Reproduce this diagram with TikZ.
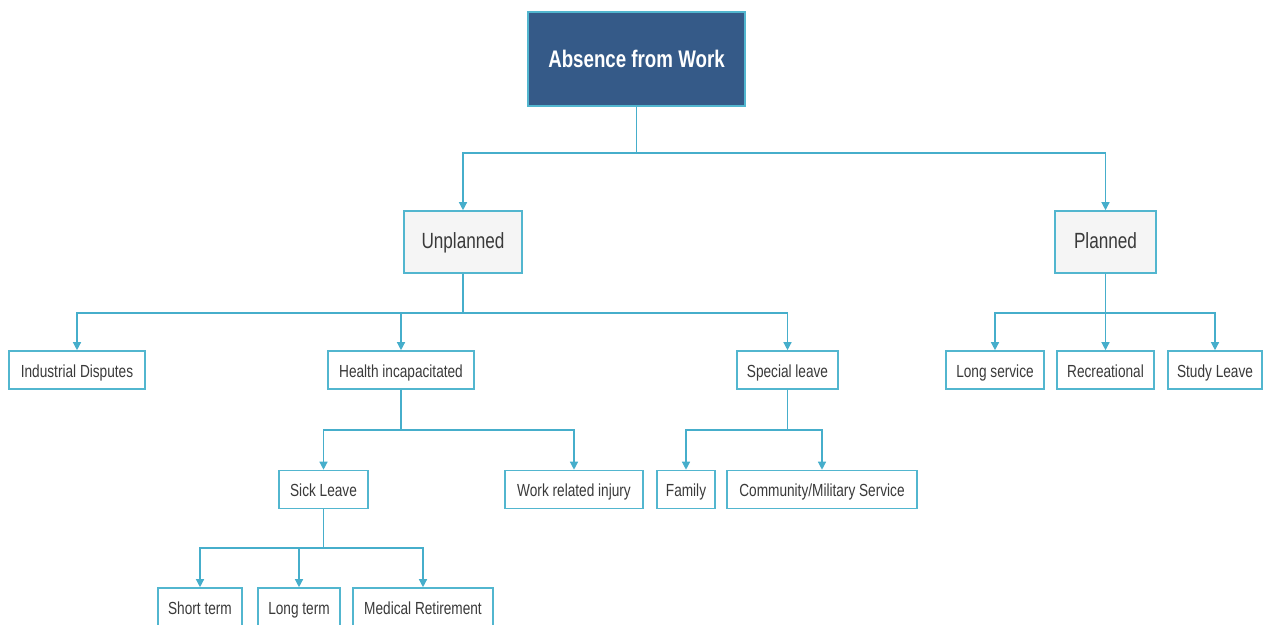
\documentclass[tikz,border=0pt]{standalone}
\usepackage{fontspec}
\setmainfont[FakeStretch=0.78]{Liberation Sans}
\usetikzlibrary{arrows.meta}
\definecolor{rootfill}{HTML}{355A88}
\definecolor{edge}{HTML}{46AECB}
\definecolor{boxline}{HTML}{52B6CF}
\definecolor{txt}{HTML}{3A3A3A}
\definecolor{midfill}{HTML}{F5F5F5}
\tikzset{
  rootbox/.style={draw=boxline, line width=1.6pt, fill=rootfill, text=white, font=\fontsize{24}{28}\selectfont\bfseries, minimum width=217pt, minimum height=94pt, inner sep=0pt, text height=1.8em, text depth=0.2em},
  midbox/.style={draw=boxline, line width=1.6pt, fill=midfill, text=txt, font=\fontsize{22}{26}\selectfont, minimum height=62pt, inner sep=0pt, text height=1.45em, text depth=0.2em},
  leafbox/.style={draw=boxline, line width=1.6pt, fill=white, text=txt, font=\fontsize{17.5}{21}\selectfont, minimum height=38pt, inner sep=0pt, text height=1.55em, text depth=0.15em},
  conn/.style={draw=edge, line width=1.3pt, -{Triangle[width=8pt,length=8pt]}}
}
\begin{document}
\begin{tikzpicture}[x=1pt,y=-1pt]
\useasboundingbox (0,0) rectangle (1263,624);
\clip (0,0) rectangle (1263,624);
% nodes
\node[rootbox] (root) at (636.5,59) {Absence from Work};
\node[midbox, minimum width=118pt] (unpl) at (463,242) {Unplanned};
\node[midbox, minimum width=101pt] (plan) at (1105.5,242) {Planned};
\node[leafbox, minimum width=136pt] (ind) at (77,370) {Industrial Disputes};
\node[leafbox, minimum width=146pt] (health) at (401,370) {Health incapacitated};
\node[leafbox, minimum width=101pt] (spec) at (787.5,370) {Special leave};
\node[leafbox, minimum width=98pt] (longs) at (995,370) {Long service};
\node[leafbox, minimum width=97pt] (recr) at (1105.5,370) {Recreational};
\node[leafbox, minimum width=94pt] (study) at (1215,370) {Study Leave};
\node[leafbox, minimum width=89pt] (sick) at (323.5,489.5) {Sick Leave};
\node[leafbox, minimum width=138pt] (work) at (574,489.5) {Work related injury};
\node[leafbox, minimum width=58pt] (fam) at (686,489.5) {Family};
\node[leafbox, minimum width=190pt] (comm) at (822,489.5) {Community/Military Service};
\node[leafbox, minimum width=84pt] (short) at (200,607) {Short term};
\node[leafbox, minimum width=82pt] (longt) at (299,607) {Long term};
\node[leafbox, minimum width=140pt] (med) at (423,607) {Medical Retirement};
% bus levels
\coordinate (b1) at (0,153);
\coordinate (b2) at (0,313);
\coordinate (b3) at (0,430);
\coordinate (b4) at (0,548);
% connectors
\foreach \c in {unpl,plan}
  \draw[conn] (root.south) -- (root.south |- b1) -| (\c.north);
\foreach \c in {ind,health,spec}
  \draw[conn] (unpl.south) -- (unpl.south |- b2) -| (\c.north);
\foreach \c in {longs,recr,study}
  \draw[conn] (plan.south) -- (plan.south |- b2) -| (\c.north);
\foreach \c in {sick,work}
  \draw[conn] (health.south) -- (health.south |- b3) -| (\c.north);
\foreach \c in {fam,comm}
  \draw[conn] (spec.south) -- (spec.south |- b3) -| (\c.north);
\foreach \c in {short,longt,med}
  \draw[conn] (sick.south) -- (sick.south |- b4) -| (\c.north);
\end{tikzpicture}
\end{document}
